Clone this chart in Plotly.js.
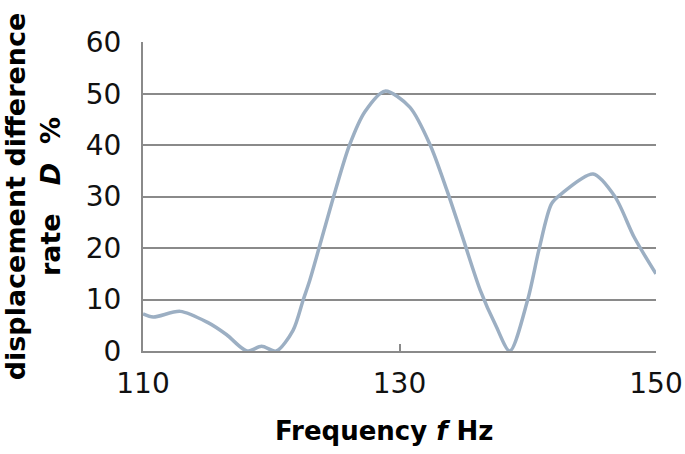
<!DOCTYPE html>
<html>
<head>
<meta charset="utf-8">
<script src="https://cdn.plot.ly/plotly-3.0.1.min.js"></script>
<style>html,body{margin:0;padding:0;background:#fff;}#chart{width:685px;height:454px;}</style>
</head>
<body>
<div id="chart"></div>
<script>
const frequency = [110, 110.8, 112.9, 115, 116.5, 118.1, 119.25, 120.4, 121.7, 122.5, 123, 125, 126.1, 127.3, 128.86, 130.8, 132.4, 133.7, 135, 136.3, 137.5, 138.6, 140, 140.9, 141.85, 142.6, 145.1, 146.8, 148.3, 150];
const rateD = [7.2, 6.6, 7.7, 5.6, 3.2, 0, 0.9, 0, 4.0, 10, 13.7, 31.2, 40, 46.5, 50.5, 47.4, 40, 31.2, 21.5, 11.8, 5.0, 0, 10, 20, 28.6, 30.5, 34.4, 30, 22.1, 15.0];
const xTicks = [110, 130, 150];
const yTicks = [0, 10, 20, 30, 40, 50, 60];
const xTitle = '<b>Frequency<i> f </i>Hz</b>';
const yTitle = '<b>displacement difference<br>rate\u00a0\u00a0\u00a0<i>D</i>\u00a0\u00a0%</b>';

const gridColor = '#8a8a8a';
Plotly.newPlot('chart', [{
  x: frequency, y: rateD, type: 'scatter', mode: 'lines',
  line: {color: '#9cafc3', width: 3.5, shape: 'spline', smoothing: 0.8},
  hoverinfo: 'none', cliponaxis: true
}], {
  width: 685, height: 454,
  margin: {l: 143, r: 29, t: 41.5, b: 103},
  paper_bgcolor: '#fff', plot_bgcolor: '#fff',
  font: {family: 'DejaVu Sans, Verdana, sans-serif', color: '#000'},
  showlegend: false,
  xaxis: {
    range: [110, 150], tickvals: xTicks, ticktext: xTicks.map(String),
    showgrid: false, zeroline: false,
    showline: true, linecolor: gridColor, linewidth: 2,
    ticks: 'inside', ticklen: 7, tickwidth: 2, tickcolor: gridColor,
    ticklabelstandoff: 6,
    tickfont: {size: 28, color: '#111'}
  },
  yaxis: {
    range: [0, 60.05], tickvals: yTicks, ticktext: yTicks.map(String),
    showgrid: true, gridcolor: gridColor, gridwidth: 2, zeroline: false,
    showline: true, linecolor: gridColor, linewidth: 2,
    ticks: '', ticklabelstandoff: 14,
    tickfont: {size: 28, color: '#111'},
    title: {text: yTitle, font: {size: 27, color: '#000'}, standoff: 24}
  },
  annotations: [{
    text: xTitle, xref: 'paper', yref: 'paper', x: 0.4717, y: -0.259,
    xanchor: 'center', yanchor: 'middle', showarrow: false,
    font: {size: 26, color: '#000'}
  }]
}, {staticPlot: true});
</script>
</body>
</html>
